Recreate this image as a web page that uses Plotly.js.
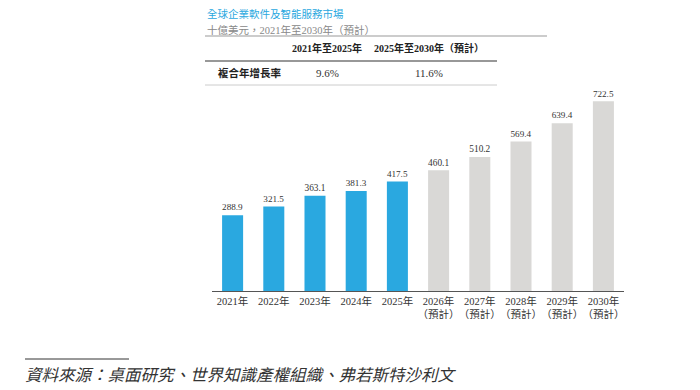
<!DOCTYPE html>
<html>
<head>
<meta charset="utf-8">
<script src="https://cdn.plot.ly/plotly-3.0.1.min.js"></script>
<style>
  html, body { margin: 0; padding: 0; background: #fff; }
  #chart { width: 700px; height: 390px; }
</style>
</head>
<body>
<div id="chart"></div>
<script>
// Market size by year, billions of USD
const years = ['2021', '2022', '2023', '2024', '2025', '2026', '2027', '2028', '2029', '2030'];
const values = [288.9, 321.5, 363.1, 381.3, 417.5, 460.1, 510.2, 569.4, 639.4, 722.5];
const forecast = [false, false, false, false, false, true, true, true, true, true];

// CAGR table
const periodHeaders = ['2021年至2025年', '2025年至2030年（預計）'];
const cagrLabel = '複合年增長率';
const cagrValues = ['9.6%', '11.6%'];

const chartTitle = '全球企業軟件及智能服務市場';
const unitLine = '十億美元，2021年至2030年（預計）';
const sourceNote = '資料來源：桌面研究、世界知識產權組織、弗若斯特沙利文';

const FONT = '"Liberation Serif", "Noto Sans CJK TC", serif';
const ACTUAL = '#2aa8e0';
const PROJ = '#d9d8d6';

const tickText = years.map((y, i) => forecast[i] ? y + '年<br>（預計）' : y + '年');

// plot area in page pixels
const W = 700, H = 390;
const M = { l: 212, r: 76, t: 81, b: 99 };
const PW = W - M.l - M.r, PH = H - M.t - M.b;
const px = x => (x - M.l) / PW;
const py = y => (H - M.b - y) / PH;

const trace = {
  type: 'bar',
  x: years,
  y: values,
  marker: { color: forecast.map(f => f ? PROJ : ACTUAL) },
  width: 0.51,
  text: values.map(v => v.toFixed(1)),
  textposition: 'outside',
  textfont: { family: FONT, size: 11, color: '#333' },
  cliponaxis: false,
  hoverinfo: 'none'
};

function note(text, x, y, opts) {
  return Object.assign({
    text, xref: 'paper', yref: 'paper', x: px(x), y: py(y),
    xanchor: 'left', yanchor: 'middle', showarrow: false,
    font: { family: FONT, size: 11, color: '#333' }
  }, opts || {});
}
function hline(x0, x1, y, color, w) {
  return { type: 'line', xref: 'paper', yref: 'paper',
           x0: px(x0), x1: px(x1), y0: py(y), y1: py(y),
           line: { color, width: w } };
}

const annotations = [
  note(chartTitle, 205, 14, { font: { family: FONT, size: 10.5, color: '#2aa8e0' } }),
  note(unitLine, 205, 30, { font: { family: FONT, size: 10.5, color: '#888' } }),
  note('<b>' + periodHeaders[0] + '</b>', 327, 48, { xanchor: 'center', font: { family: FONT, size: 10, color: '#222' } }),
  note('<b>' + periodHeaders[1] + '</b>', 429, 48, { xanchor: 'center', font: { family: FONT, size: 10, color: '#222' } }),
  note('<b>' + cagrLabel + '</b>', 216, 73, { font: { family: FONT, size: 10.5, color: '#222' } }),
  note(cagrValues[0], 327, 73, { xanchor: 'center' }),
  note(cagrValues[1], 429, 73, { xanchor: 'center' }),
  note('<i>' + sourceNote + '</i>', 23, 375, { font: { family: FONT, size: 16.5, color: '#333' } })
];

const shapes = [
  hline(205, 547, 36, '#bbb', 1.5),
  hline(205, 497, 61, '#333', 1.2),
  hline(205, 497, 85, '#ccc', 1),
  hline(25, 129, 359, '#333', 1)
];

const layout = {
  width: W, height: H,
  margin: M,
  paper_bgcolor: '#fff', plot_bgcolor: '#fff',
  showlegend: false,
  bargap: 0.49,
  xaxis: {
    type: 'category',
    range: [-0.5, 9.5],
    tickvals: years, ticktext: tickText,
    tickangle: 0,
    showline: true, linecolor: '#555', linewidth: 1,
    ticks: '', showgrid: false, zeroline: false,
    tickfont: { family: FONT, size: 10.5, color: '#333' },
    fixedrange: true
  },
  yaxis: {
    range: [0, 800],
    visible: false, showgrid: false, zeroline: false,
    fixedrange: true
  },
  annotations, shapes
};

Plotly.newPlot('chart', [trace], layout, { displayModeBar: false, staticPlot: true });
</script>
</body>
</html>
